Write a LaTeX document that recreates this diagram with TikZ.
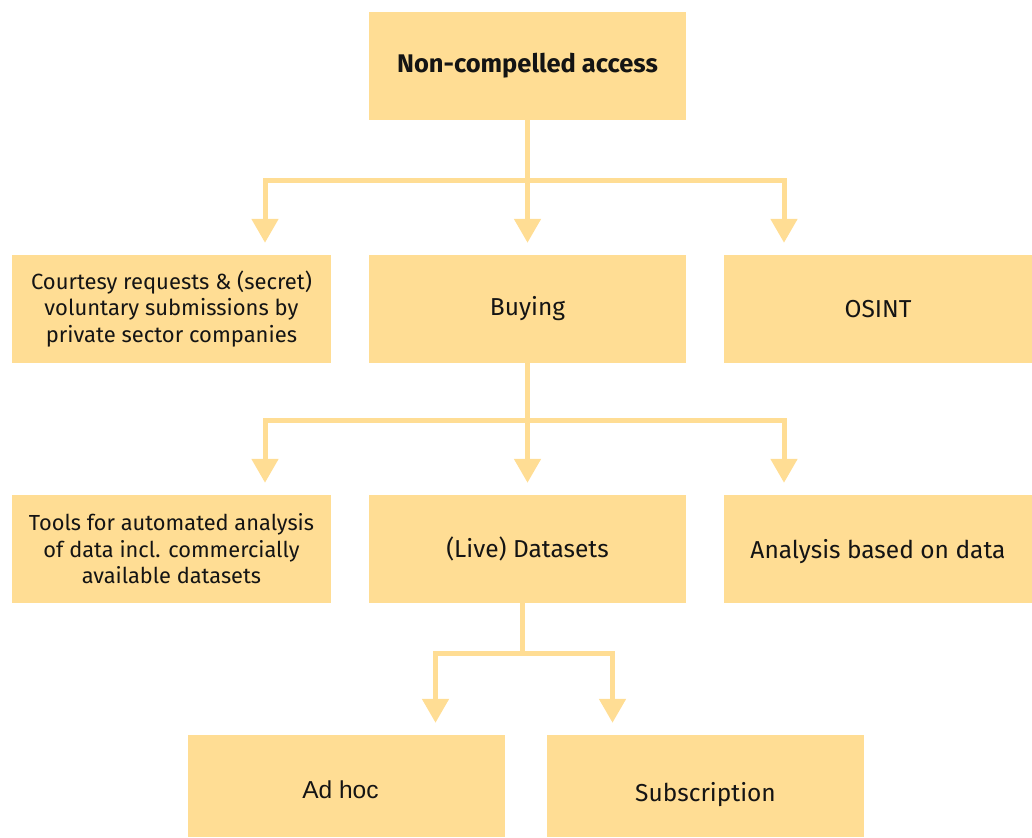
\documentclass[tikz,border=0pt]{standalone}
\usepackage{fontspec}
\setmainfont{Fira Sans}
\newfontfamily\arialfont{Liberation Sans}
\usetikzlibrary{arrows.meta}
\definecolor{boxfill}{HTML}{FFDD94}
\definecolor{ink}{HTML}{141414}
\newcommand{\lowered}[2]{\raisebox{-#1}[\height][\depth]{#2}}
\tikzset{
  box/.style={fill=boxfill, draw=none, minimum width=317pt, minimum height=108pt,
    inner sep=0pt, align=center, text=ink,
    font=\fontsize{24.5}{28}\selectfont},
  multibox/.style={box, font=\fontsize{22}{26.5}\selectfont},
  link/.style={draw=boxfill, line width=5pt,
    -{Triangle[width=26pt,length=24pt]}, shorten >=12pt},
}
\begin{document}
\begin{tikzpicture}[x=1pt, y=-1pt]
\useasboundingbox (0,0) rectangle (1032,837);

% level 0
\node[box, font=\bfseries\fontsize{25.5}{28}\selectfont] (top) at (527.5,66) {Non-compelled access};

% level 1
\node[multibox, minimum width=319pt] (l2) at (171.5,309)
  {Courtesy requests \& (secret)\\voluntary submissions by\\private sector companies};
\node[box] (m2) at (527.5,309) {Buying};
\node[box, minimum width=308pt] (r2) at (878,309) {OSINT};

% level 2
\node[multibox, minimum width=319pt, font=\fontsize{21.8}{26.5}\selectfont] (l3) at (171.5,549)
  {Tools for automated analysis\\of data incl. commercially\\available datasets};
\node[box] (m3) at (527.5,549) {(Live) Datasets};
\node[box, minimum width=308pt] (r3) at (878,549) {\lowered{3pt}{Analysis based on data}};

% level 3
\node[box, minimum height=102pt, font=\arialfont\fontsize{24.5}{28}\selectfont] (a4) at (346.5,786)
  {\hspace*{-12pt}\lowered{4pt}{Ad hoc}};
\node[box, minimum height=102pt] (s4) at (705.5,786) {\lowered{9pt}{Subscription}};

% connectors from the top box
\draw[link] (top.south) -- ++(0,60) -| ([xshift=93.5pt]l2.north);
\draw[link] (top.south) -- (m2.north);
\draw[link] (top.south) -- ++(0,60) -| ([xshift=-94pt]r2.north);

% connectors from Buying
\draw[link] (m2.south) -- ++(0,57) -| ([xshift=93.5pt]l3.north);
\draw[link] (m2.south) -- (m3.north);
\draw[link] (m2.south) -- ++(0,57) -| ([xshift=-94pt]r3.north);

% connectors from (Live) Datasets
\draw[link] ([xshift=-5pt]m3.south) -- ++(0,50) -| ([xshift=89pt]a4.north);
\draw[link] ([xshift=-5pt]m3.south) -- ++(0,50) -| ([xshift=-93pt]s4.north);
\end{tikzpicture}
\end{document}
